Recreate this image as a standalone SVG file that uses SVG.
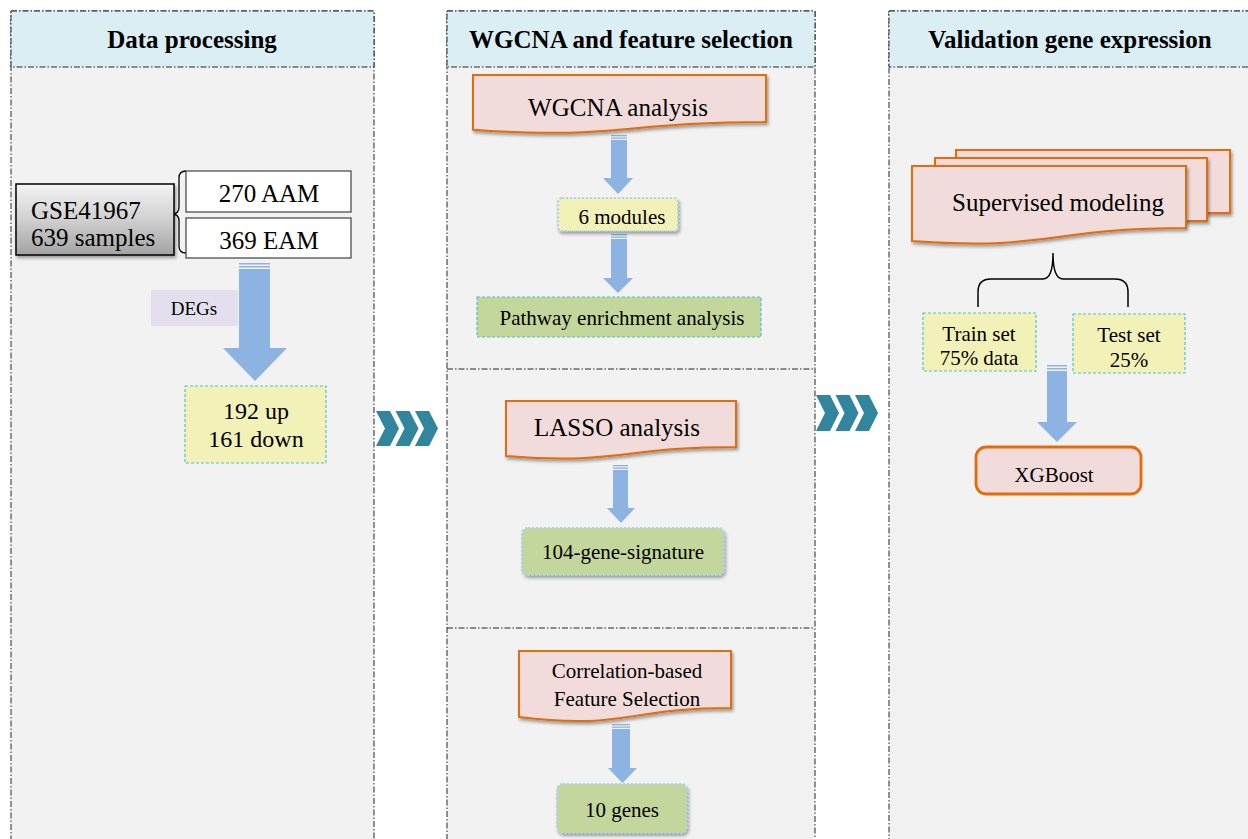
<svg xmlns="http://www.w3.org/2000/svg" width="1248" height="839" viewBox="0 0 1248 839">
<defs>
<style>
.col{fill:#f2f2f2;stroke:#262626;stroke-width:1;stroke-dasharray:6 2 1.5 2}
.hdr{fill:#dbeef3;stroke:#262626;stroke-width:1;stroke-dasharray:6 2 1.5 2}
.div{stroke:#262626;stroke-width:1;stroke-dasharray:6 2 1.5 2;fill:none}
.ht{font-family:"Liberation Serif","Times New Roman",serif;font-weight:bold;font-size:25px;fill:#000;text-anchor:middle}
.t{font-family:"Liberation Serif","Times New Roman",serif;fill:#000;text-anchor:middle}
.doc{fill:#f2dcdb;stroke:#e36c09;stroke-width:2}
.arr{fill:#8db3e2}
.chev{fill:#31859c}
.yel{fill:#f2f2b8;stroke:#4bc6c6;stroke-width:1.2;stroke-dasharray:3 2}
.grn{fill:#c3d69b;stroke:#4bc6c6;stroke-width:1.2;stroke-dasharray:3 2}
.dot{stroke:#a9d4e6;stroke-width:2.2;stroke-dasharray:2 2}
</style>
<filter id="sh" x="-10%" y="-10%" width="130%" height="140%">
<feDropShadow dx="1.5" dy="2.5" stdDeviation="1.8" flood-color="#000" flood-opacity="0.35"/>
</filter>
<linearGradient id="gg" x1="0" y1="0" x2="0" y2="1">
<stop offset="0" stop-color="#f4f4f4"/>
<stop offset="0.5" stop-color="#d0d0d0"/>
<stop offset="1" stop-color="#a3a3a3"/>
</linearGradient>
</defs>

<g id="columns">
<rect class="col" x="11" y="11" width="363" height="840"/>
<rect class="hdr" x="11" y="11" width="363" height="56"/>
<text class="ht" x="192" y="48">Data processing</text>
<rect class="col" x="447" y="11" width="368" height="840"/>
<rect class="hdr" x="447" y="11" width="368" height="56"/>
<text class="ht" x="631" y="48">WGCNA and feature selection</text>
<line class="div" x1="447" y1="369" x2="815" y2="369"/>
<line class="div" x1="447" y1="628" x2="815" y2="628"/>
<rect class="col" x="889" y="11" width="370" height="840"/>
<rect class="hdr" x="889" y="11" width="370" height="56"/>
<text class="ht" x="1070" y="48">Validation gene expression</text>
</g>

<g id="connectors">
<g class="chev">
<path d="M376,411h14l9,17.5l-9,17.5h-14l9,-17.5z"/>
<path d="M395.5,411h14l9,17.5l-9,17.5h-14l9,-17.5z"/>
<path d="M415,411h14l9,17.5l-9,17.5h-14l9,-17.5z"/>
<path d="M816,395h14l9,18l-9,18h-14l9,-18z"/>
<path d="M835.5,395h14l9,18l-9,18h-14l9,-18z"/>
<path d="M855,395h14l9,18l-9,18h-14l9,-18z"/>
</g>
<path d="M186,171 Q179,171 179,178 V207 Q179,214 172,214 Q179,214 179,221 V246 Q179,253 186,253" fill="none" stroke="#000" stroke-width="1.3"/>
<g class="arr">
<rect x="239" y="263" width="31" height="1.5"/>
<rect x="239" y="266" width="31" height="1.5"/>
<path d="M239,269H270V348H287L255,381L223,348H239Z"/>
</g>
<g class="arr">
<rect x="611" y="135" width="16" height="1.3"/>
<rect x="611" y="137.5" width="16" height="1.3"/>
<path d="M611,140H627V178H633L618,194L603,178H611Z"/>
<rect x="611" y="234" width="16" height="1.3"/>
<rect x="611" y="236.5" width="16" height="1.3"/>
<path d="M611,239H627V278H633L618,293L603,278H611Z"/>
<rect x="613" y="465" width="15" height="1.3"/>
<rect x="613" y="467.5" width="15" height="1.3"/>
<path d="M613,470H628V508H635L621,523L607,508H613Z"/>
<rect x="612" y="724" width="18" height="1.3"/>
<rect x="612" y="726.5" width="18" height="1.3"/>
<path d="M612,729H630V768H637L622.5,783L608,768H612Z"/>
<rect x="1047" y="365" width="20" height="1.5"/>
<rect x="1047" y="368" width="20" height="1.5"/>
<path d="M1047,371H1067V422H1077L1057,442L1037,422H1047Z"/>
</g>
<path d="M978,307 V292 Q978,279 991,279 H1043 Q1053,279 1053,253 Q1053,279 1063,279 H1115 Q1128,279 1128,292 V307" fill="none" stroke="#000" stroke-width="1.5"/>
</g>

<g id="gse">
<rect x="16" y="184" width="158" height="71" fill="url(#gg)" stroke="#000" stroke-width="1.5" filter="url(#sh)"/>
<text class="t" x="31" y="219" font-size="25" style="text-anchor:start">GSE41967</text>
<text class="t" x="31" y="246" font-size="25" style="text-anchor:start">639 samples</text>
</g>
<g id="aam">
<rect x="186" y="171" width="165" height="41" fill="#fff" stroke="#404040" stroke-width="1.2"/>
<text class="t" x="269" y="202" font-size="25">270 AAM</text>
</g>
<g id="eam">
<rect x="186" y="218" width="165" height="40" fill="#fff" stroke="#404040" stroke-width="1.2"/>
<text class="t" x="269" y="249" font-size="25">369 EAM</text>
</g>
<g id="degs">
<rect x="151" y="290" width="87" height="36" fill="#e4dfec"/>
<text class="t" x="194" y="315" font-size="19">DEGs</text>
</g>
<g id="updown">
<rect class="yel" x="185" y="386" width="141" height="77"/>
<text class="t" x="256" y="419" font-size="24">192 up</text>
<text class="t" x="256" y="447" font-size="24">161 down</text>
</g>

<g id="wgcna">
<path class="doc" filter="url(#sh)" d="M473,75H766V122C619.5,122 619.5,140 473,129.7Z"/>
<text class="t" x="618" y="116" font-size="25">WGCNA analysis</text>
</g>
<g id="modules">
<rect class="dot" fill="#f2f2b8" x="558" y="198" width="120" height="33" rx="4" filter="url(#sh)"/>
<text class="t" x="622" y="224" font-size="21">6 modules</text>
</g>
<g id="pathway">
<rect class="grn" x="477" y="297" width="284" height="40"/>
<text class="t" x="622" y="325" font-size="21">Pathway enrichment analysis</text>
</g>
<g id="lasso">
<path class="doc" filter="url(#sh)" d="M506,401H736V447C621,447 621,465 506,456Z"/>
<text class="t" x="617" y="436" font-size="25">LASSO analysis</text>
</g>
<g id="sig104">
<rect class="dot" fill="#c3d69b" x="522" y="528" width="202" height="47" rx="6" filter="url(#sh)"/>
<text class="t" x="623" y="559" font-size="21">104-gene-signature</text>
</g>
<g id="cfs">
<path class="doc" filter="url(#sh)" d="M519,651H731V708C625,708 625,730 519,717Z"/>
<text class="t" x="627" y="678" font-size="21">Correlation-based</text>
<text class="t" x="627" y="706" font-size="21">Feature Selection</text>
</g>
<g id="genes10">
<rect class="dot" fill="#c3d69b" x="557" y="784" width="130" height="49" rx="6" filter="url(#sh)"/>
<text class="t" x="622" y="817" font-size="21">10 genes</text>
</g>

<g id="supervised">
<rect class="doc" x="956" y="150" width="274" height="63" filter="url(#sh)"/>
<rect class="doc" x="935" y="158" width="272" height="63" filter="url(#sh)"/>
<path class="doc" filter="url(#sh)" d="M912,166H1186V228C1049,228 1049,251 912,241Z"/>
<text class="t" x="1058" y="211" font-size="25">Supervised modeling</text>
</g>
<g id="train">
<rect class="yel" x="923" y="313" width="113" height="58"/>
<text class="t" x="979" y="341" font-size="21">Train set</text>
<text class="t" x="979" y="365" font-size="21">75% data</text>
</g>
<g id="test">
<rect class="yel" x="1073" y="314" width="112" height="59"/>
<text class="t" x="1129" y="342" font-size="21">Test set</text>
<text class="t" x="1129" y="367" font-size="21">25%</text>
</g>
<g id="xgboost">
<rect x="976" y="447" width="165" height="47" rx="10" fill="#f2dcdb" stroke="#e36c09" stroke-width="2.8"/>
<text class="t" x="1054" y="482" font-size="21">XGBoost</text>
</g>
</svg>
